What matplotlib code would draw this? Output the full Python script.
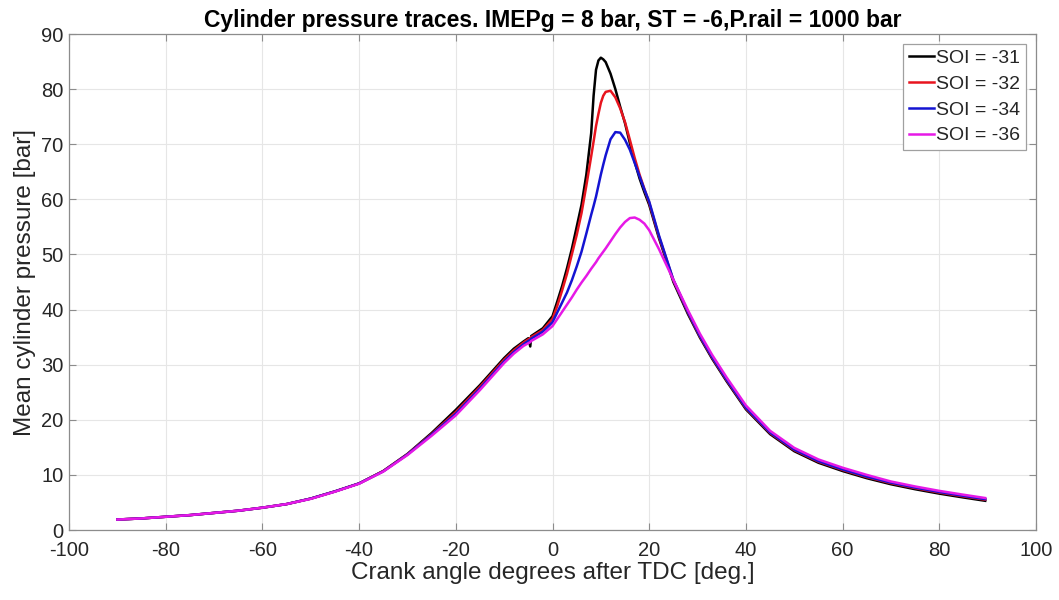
import matplotlib
matplotlib.use("Agg")
import matplotlib.pyplot as plt

plt.rcParams['font.family'] = ['Liberation Sans', 'DejaVu Sans']
plt.rcParams['axes.unicode_minus'] = False

crank_angle = [-90, -85, -80, -75, -70, -65, -60, -55, -50, -45,
               -40, -35, -30, -25, -20, -15, -10, -8, -6, -5,
               -4.6, -4.4, -2, 0, 1, 2, 3, 4, 5, 6,
               7, 8, 8.5, 9, 9.5, 10, 10.5, 11, 12, 13,
               14, 15, 16, 17, 18, 19, 20, 22, 25, 28,
               30.5, 33, 36, 40, 45, 50, 55, 60, 65, 70,
               75, 80, 85, 89.5]

p_soi_31 = [1.9, 2.1, 2.4, 2.7, 3.1, 3.5, 4.05, 4.7, 5.7, 7.0,
            8.45, 10.7, 13.8, 17.6, 21.8, 26.3, 31.2, 32.9, 34.2, 34.8,
            33.3, 35.2, 36.6, 38.8, 41.5, 44.3, 47.5, 51.0, 55.0, 59.0,
            64.5, 72.0, 78.8, 83.5, 85.2, 85.7, 85.4, 84.9, 82.8, 80.0,
            76.8, 73.8, 70.2, 66.8, 63.8, 61.3, 59.0, 53.0, 45.0, 39.2,
            34.9, 31.1, 27.0, 21.9, 17.4, 14.3, 12.2, 10.7, 9.4, 8.3,
            7.4, 6.6, 5.9, 5.3]

p_soi_32 = [1.9, 2.1, 2.4, 2.7, 3.1, 3.5, 4.05, 4.7, 5.7, 7.0,
            8.45, 10.7, 13.75, 17.4, 21.4, 26.0, 30.9, 32.6, 34.0, 34.6,
            34.8, 35.0, 36.3, 38.3, 40.7, 43.5, 46.5, 50.0, 53.5, 57.5,
            62.5, 67.8, 70.5, 73.3, 75.5, 77.5, 78.8, 79.5, 79.7, 78.5,
            76.5, 74.0, 70.8, 67.5, 64.5, 61.9, 59.4, 53.3, 45.3, 39.5,
            35.1, 31.3, 27.2, 22.1, 17.6, 14.5, 12.4, 10.9, 9.6, 8.5,
            7.6, 6.8, 6.1, 5.5]

p_soi_34 = [1.9, 2.1, 2.4, 2.7, 3.1, 3.5, 4.05, 4.7, 5.7, 7.0,
            8.45, 10.65, 13.7, 17.3, 21.1, 25.7, 30.6, 32.3, 33.7, 34.3,
            34.5, 34.7, 36.0, 37.7, 39.5, 41.3, 43.1, 45.3, 47.8, 50.5,
            53.8, 57.2, 58.8, 60.5, 62.5, 64.5, 66.3, 68.0, 70.9, 72.2,
            72.1, 70.8, 69.0, 66.6, 64.2, 61.8, 59.6, 53.5, 45.4, 39.6,
            35.2, 31.4, 27.3, 22.2, 17.7, 14.6, 12.5, 11.0, 9.7, 8.6,
            7.7, 6.9, 6.2, 5.6]

p_soi_36 = [1.9, 2.1, 2.4, 2.7, 3.1, 3.5, 4.05, 4.7, 5.65, 6.95,
            8.4, 10.6, 13.6, 17.1, 20.8, 25.4, 30.3, 32.0, 33.4, 33.9,
            34.1, 34.3, 35.5, 37.0, 38.3, 39.6, 40.9, 42.2, 43.6, 44.9,
            46.1, 47.4, 48.0, 48.6, 49.3, 49.9, 50.5, 51.1, 52.4, 53.7,
            54.9, 55.9, 56.6, 56.7, 56.3, 55.6, 54.4, 51.0, 45.4, 39.9,
            35.6, 31.8, 27.7, 22.6, 18.0, 14.9, 12.8, 11.3, 10.0, 8.8,
            7.9, 7.1, 6.4, 5.8]

series_labels = ['SOI = -31', 'SOI = -32', 'SOI = -34', 'SOI = -36']
series_colors = ['#000000', '#e8141e', '#1414d2', '#e619e6']

x_ticks = [-100, -80, -60, -40, -20, 0, 20, 40, 60, 80, 100]
y_ticks = [0, 10, 20, 30, 40, 50, 60, 70, 80, 90]

fig = plt.figure(figsize=(10.59, 6.0), dpi=100)
ax = fig.add_axes([69 / 1059, 1 - 530 / 600, (1036 - 69) / 1059, (530 - 34) / 600])

for p, lab, col in zip([p_soi_31, p_soi_32, p_soi_34, p_soi_36], series_labels, series_colors):
    ax.plot(crank_angle, p, color=col, lw=1.8, label=lab)

ax.set_xlim(-100, 100)
ax.set_ylim(0, 90)
ax.set_xticks(x_ticks)
ax.set_yticks(y_ticks)
ax.grid(True, color='#e6e6e6', lw=0.8)
ax.set_axisbelow(True)
for s in ax.spines.values():
    s.set_color('#8c8c8c')
    s.set_linewidth(0.9)
ax.tick_params(direction='in', top=True, right=True, length=5, width=0.8,
               color='#8c8c8c', labelcolor='#262626', labelsize=14.5, pad=4)
ax.tick_params(axis='x', pad=8)

ax.set_xlabel('Crank angle degrees after TDC [deg.]', fontsize=17.5, color='#262626', labelpad=1)
ax.set_ylabel('Mean cylinder pressure [bar]', fontsize=17.5, color='#262626', labelpad=4)
ax.set_title('Cylinder pressure traces. IMEPg = 8 bar, ST = -6,P.rail = 1000 bar',
             fontsize=16.5, fontweight='bold', color='black', pad=5)

leg = ax.legend(loc='upper right', fontsize=14, frameon=True, fancybox=False,
                handlelength=1.3, handletextpad=0.1, borderpad=0.3,
                labelspacing=0.42, borderaxespad=0.5)
leg.get_frame().set_edgecolor('#a0a0a0')
leg.get_frame().set_linewidth(0.9)
leg.get_frame().set_alpha(1.0)
for t in leg.get_texts():
    t.set_color('#262626')

fig.savefig('out.png', dpi=100)
